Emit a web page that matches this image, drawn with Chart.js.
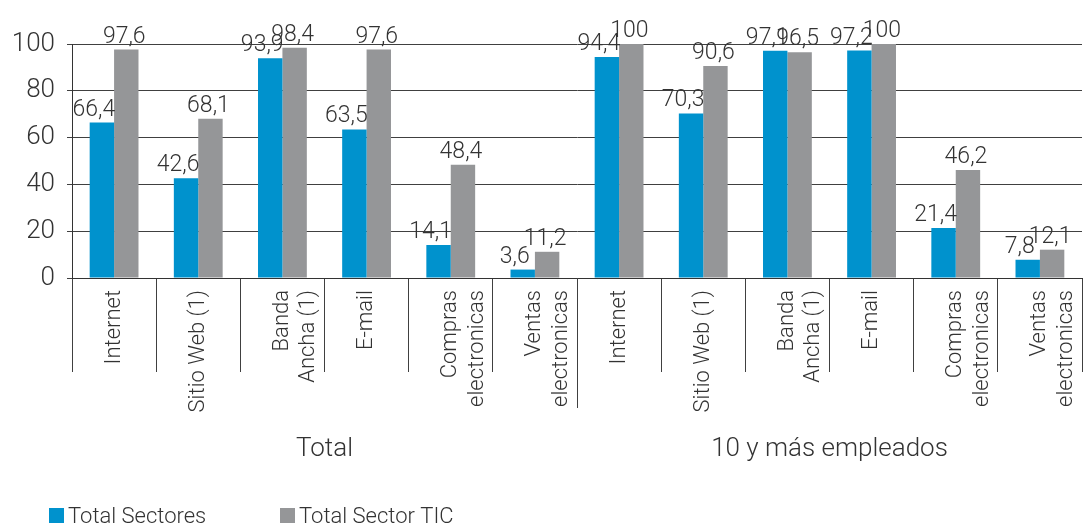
<!DOCTYPE html>
<html>
<head>
<meta charset="utf-8">
<script src="https://cdn.jsdelivr.net/npm/chart.js@4/dist/chart.umd.min.js"></script>
<style>
  body { margin: 0; background: #fff; }
  #wrap { width: 1085px; height: 526px; position: relative; }
</style>
</head>
<body>
<div id="wrap"><canvas id="tic_chart"></canvas></div>
<script>
//chart data
const categories = [
  "Internet", "Sitio Web (1)", ["Banda", "Ancha (1)"], "E-mail", ["Compras", "electronicas"], ["Ventas", "electronicas"],
  "Internet", "Sitio Web (1)", ["Banda", "Ancha (1)"], "E-mail", ["Compras", "electronicas"], ["Ventas", "electronicas"]
];
const group_names = ["Total", "10 y más empleados"];
const total_sectores = [66.4, 42.6, 93.9, 63.5, 14.1, 3.6, 94.4, 70.3, 97.1, 97.2, 21.4, 7.8];
const total_sector_tic = [97.6, 68.1, 98.4, 97.6, 48.4, 11.2, 100, 90.6, 96.5, 100, 46.2, 12.1];
const y_ticks = [0, 20, 40, 60, 80, 100];

const blue = "#0092cd";
const grey = "#959698";
const text_color = "#333333";
const font_family = "Roboto, 'Liberation Sans', sans-serif";

Chart.defaults.font.family = font_family;
Chart.defaults.font.weight = 300;
Chart.defaults.color = text_color;

function fmt(v) {
  return String(v).replace(".", ",");
}

//values above bars, group names, long separator and legend
const label_shift = [-8, -2];
const extras = {
  id: "extras",
  afterDatasetsDraw(chart) {
    const c = chart.ctx;
    c.save();
    c.fillStyle = text_color;
    c.font = "300 23px " + font_family;
    c.textAlign = "center";
    c.textBaseline = "alphabetic";
    chart.data.datasets.forEach((ds, i) => {
      chart.getDatasetMeta(i).data.forEach((bar, j) => {
        c.fillText(fmt(ds.data[j]), bar.x + label_shift[i], bar.y - 7);
      });
    });
    c.restore();
  },
  afterDraw(chart) {
    const c = chart.ctx;
    const x = chart.scales.x;
    const bottom = chart.chartArea.bottom;
    c.save();

    // separator between the two groups goes further down
    const mid = (x.getPixelForValue(5) + x.getPixelForValue(6)) / 2;
    c.strokeStyle = "#404040";
    c.lineWidth = 1;
    c.beginPath();
    c.moveTo(Math.round(mid) + 0.5, bottom);
    c.lineTo(Math.round(mid) + 0.5, bottom + 130);
    c.stroke();

    c.fillStyle = text_color;
    c.font = "300 26px " + font_family;
    c.textAlign = "center";
    c.textBaseline = "middle";
    group_names.forEach((name, g) => {
      const a = x.getPixelForValue(g * 6);
      const b = x.getPixelForValue(g * 6 + 5);
      c.fillText(name, (a + b) / 2, 449);
    });

    // legend
    const legend_x = [49, 280];
    c.font = "300 22px " + font_family;
    c.textAlign = "left";
    chart.data.datasets.forEach((ds, i) => {
      c.fillStyle = ds.backgroundColor;
      c.fillRect(legend_x[i], 508, 15, 15);
      c.fillStyle = text_color;
      c.fillText(ds.label, legend_x[i] + 19, 517);
    });
    c.restore();
  }
};

const ctx = document.getElementById("tic_chart").getContext("2d");
new Chart(ctx, {
  type: "bar",
  data: {
    labels: categories,
    datasets: [
      { label: "Total Sectores", data: total_sectores, backgroundColor: blue },
      { label: "Total Sector TIC", data: total_sector_tic, backgroundColor: grey }
    ]
  },
  options: {
    responsive: true,
    maintainAspectRatio: false,
    animation: false,
    categoryPercentage: 0.58,
    barPercentage: 1.0,
    layout: { padding: { top: 44, right: 3, left: 0, bottom: 0 } },
    plugins: {
      legend: { display: false },
      tooltip: { enabled: false }
    },
    scales: {
      x: {
        grid: {
          offset: true,
          drawOnChartArea: false,
          drawTicks: true,
          tickLength: 94,
          color: (c) => (c.index === categories.length ? "rgba(0,0,0,0)" : "#404040")
        },
        border: { color: "#333333" },
        ticks: {
          minRotation: 90,
          maxRotation: 90,
          autoSkip: false,
          padding: -82,
          font: { size: 22, weight: 300 },
          color: text_color
        },
        afterFit(scale) {
          scale.height = 248;
        }
      },
      y: {
        min: 0,
        max: 100,
        afterBuildTicks(scale) {
          scale.ticks = y_ticks.map((v) => ({ value: v }));
        },
        grid: { color: "#404040", tickLength: 5 },
        border: { color: "#333333" },
        ticks: {
          padding: 12,
          font: { size: 26, weight: 300 },
          color: text_color
        },
        afterFit(scale) {
          scale.width = 72;
        }
      }
    }
  },
  plugins: [extras]
});
</script>
</body>
</html>
